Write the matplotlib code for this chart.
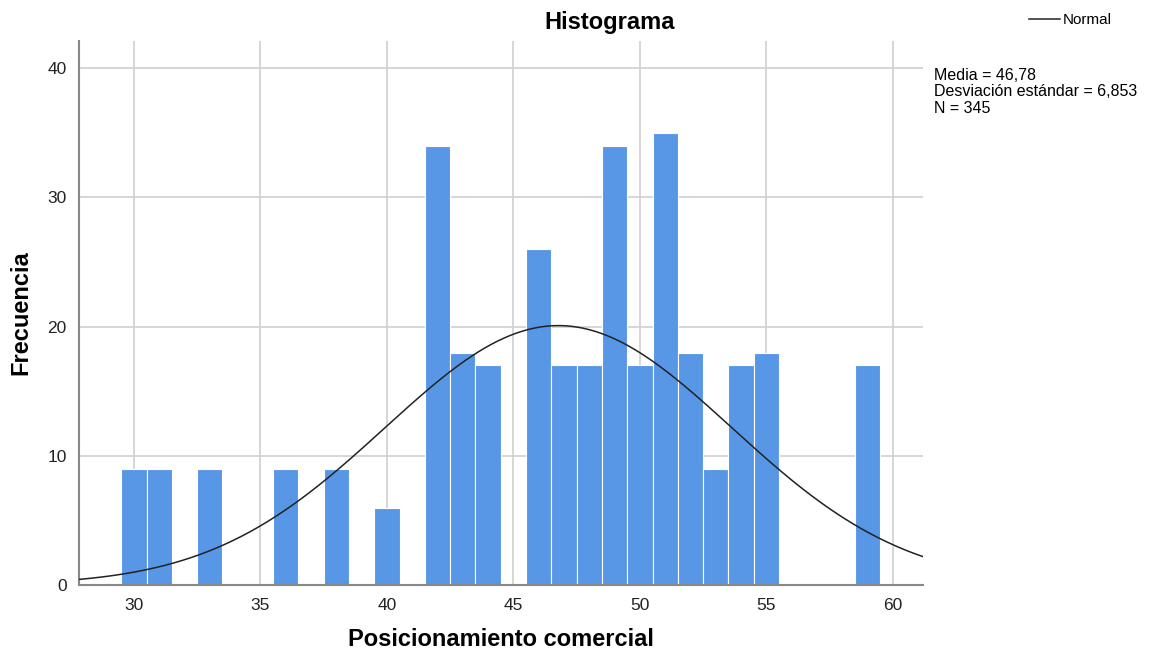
import numpy as np
import matplotlib.pyplot as plt

plt.rcParams['font.family'] = ['Liberation Sans', 'DejaVu Sans']

valores = [30, 31, 33, 36, 38, 40, 42, 43, 44, 46, 47, 48, 49, 50, 51, 52, 53, 54, 55, 59]
frecuencias = [9, 9, 9, 9, 9, 6, 34, 18, 17, 26, 17, 17, 34, 17, 35, 18, 9, 17, 18, 17]
media = 46.78
desv = 6.853
n = 345
xticks = [30, 35, 40, 45, 50, 55, 60]
yticks = [0, 10, 20, 30, 40]

fig = plt.figure(figsize=(11.5, 6.53), dpi=100)
ax = fig.add_axes([0.0687, 0.104, 0.7339, 0.833])

ax.bar(valores, frecuencias, width=1.0, color='#5797E6', edgecolor='white', linewidth=0.8, zorder=2)

## Curva normal escalada
xs = np.linspace(27.8, 61.2, 400)
ys = n * 1.0 / (desv * np.sqrt(2 * np.pi)) * np.exp(-0.5 * ((xs - media) / desv) ** 2)
ax.plot(xs, ys, color='#222222', linewidth=1.1, zorder=3, label='Normal')

ax.set_xlim(27.83, 61.19)
ax.set_ylim(0, 42.1)
ax.set_xticks(xticks)
ax.set_yticks(yticks)
ax.tick_params(length=0, labelsize=12.5, colors='#222222', pad=9)
ax.grid(True, color='#D0D0D0', linewidth=1.2, zorder=0)
ax.set_axisbelow(True)
for s in ['top', 'right']:
    ax.spines[s].set_visible(False)
for s in ['left', 'bottom']:
    ax.spines[s].set_color('#888888')
    ax.spines[s].set_linewidth(1.5)

fig.text(610 / 1150, 1 - 22 / 653, 'Histograma', fontsize=17, fontweight='bold', ha='center', va='center')
fig.text(501 / 1150, 1 - 640 / 653, 'Posicionamiento comercial', fontsize=17, fontweight='bold',
         ha='center', va='center')
fig.text(21 / 1150, 1 - 313 / 653, 'Frecuencia', fontsize=17, fontweight='bold',
         ha='center', va='center', rotation=90)

fig.legend(loc='center left', bbox_to_anchor=(1029 / 1150, 1 - 20 / 653), frameon=False, fontsize=11,
           handlelength=2.0, handletextpad=0.2, borderpad=0, borderaxespad=0)
fig.text(934 / 1150, 1 - 68 / 653, 'Media = 46,78\nDesviación estándar = 6,853\nN = 345',
         fontsize=11.5, va='top', ha='left', linespacing=1.12)

fig.savefig('out.png', dpi=100)
